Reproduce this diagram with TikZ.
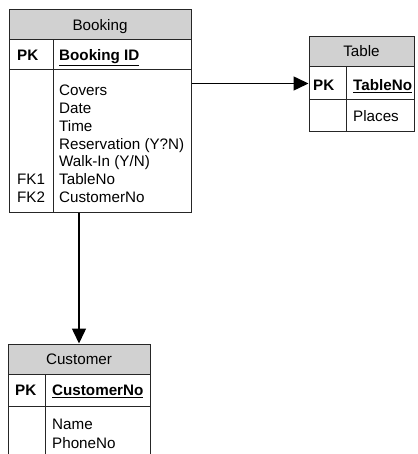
\documentclass[tikz,border=0pt]{standalone}
\usepackage{fontspec}
\setmainfont{Liberation Sans}
\usetikzlibrary{arrows.meta}

\begin{document}
\begin{tikzpicture}[x=1pt,y=-1pt,font=\fontsize{15.2}{17.7}\selectfont]
\tikzstyle{box}=[draw=black!85, line width=1pt, inner sep=0pt, rectangle]
\tikzstyle{head}=[box, fill=black!18]
\tikzstyle{txt}=[anchor=base west, inner sep=0pt]
\tikzstyle{link}=[line width=1.5pt, -{Triangle[length=15pt,width=14pt]}]
\useasboundingbox (0,0) rectangle (417,454);
\clip (0,0) rectangle (417,454);
% Booking
\node[head, minimum width=182, minimum height=30] (bkhead) at (100,25) {};
\node[box, minimum width=182, minimum height=30] (bkpk) at (100,55) {};
\node[box, minimum width=182, minimum height=142] (bkbody) at (100,141) {};
\draw[draw=black!85, line width=1pt] (53,40) -- (53,212);
\node[anchor=base, inner sep=0pt] (bkname) at (100,30.3) {Booking};
\node[txt] (bkpklbl) at (17,60.3) {\textbf{PK}};
\node[txt] (bkid) at (59,60.3) {\textbf{\underline{Booking ID}}};
\node[txt] (covers) at (59,96) {Covers};
\node[txt] (date) at (59,113.7) {Date};
\node[txt] (time) at (59,131.4) {Time};
\node[txt] (resv) at (59,149.1) {Reservation (Y?N)};
\node[txt] (walkin) at (59,166.8) {Walk-In (Y/N)};
\node[txt] (bktable) at (59,184.5) {TableNo};
\node[txt] (bkcust) at (59,202.2) {CustomerNo};
\node[txt] (fkone) at (17,184.5) {FK1};
\node[txt] (fktwo) at (17,202.2) {FK2};
% Table
\node[head, minimum width=105, minimum height=30] (tbhead) at (361.5,52) {};
\node[box, minimum width=105, minimum height=33] (tbpk) at (361.5,83.5) {};
\node[box, minimum width=105, minimum height=32] (tbbody) at (361.5,116) {};
\draw[draw=black!85, line width=1pt] (346,67) -- (346,132);
\node[anchor=base, inner sep=0pt] (tbname) at (361.5,57) {Table};
\node[txt] (tbpklbl) at (313,90.3) {\textbf{PK}};
\node[txt] (tbno) at (353,90.3) {\textbf{\underline{TableNo}}};
\node[txt] (places) at (353,122) {Places};
% Customer (runs off the bottom)
\node[head, minimum width=142, minimum height=30] (cuhead) at (79,359) {};
\node[box, minimum width=142, minimum height=32] (cupk) at (79,390) {};
\node[box, minimum width=142, minimum height=80] (cubody) at (79,446) {};
\draw[draw=black!85, line width=1pt] (45,374) -- (45,460);
\node[anchor=base, inner sep=0pt] (cuname) at (79,364.5) {Customer};
\node[txt] (cupklbl) at (15,395.5) {\textbf{PK}};
\node[txt] (cuno) at (52,395.5) {\textbf{\underline{CustomerNo}}};
\node[txt] (name) at (52,429.5) {Name};
\node[txt] (phone) at (52,448) {PhoneNo};
% relationships
\draw[link] (bkbody.east |- tbpk.west) -- (tbpk.west);
\draw[link] (bkbody.south -| cuhead.north) -- (cuhead.north);
\end{tikzpicture}
\end{document}
